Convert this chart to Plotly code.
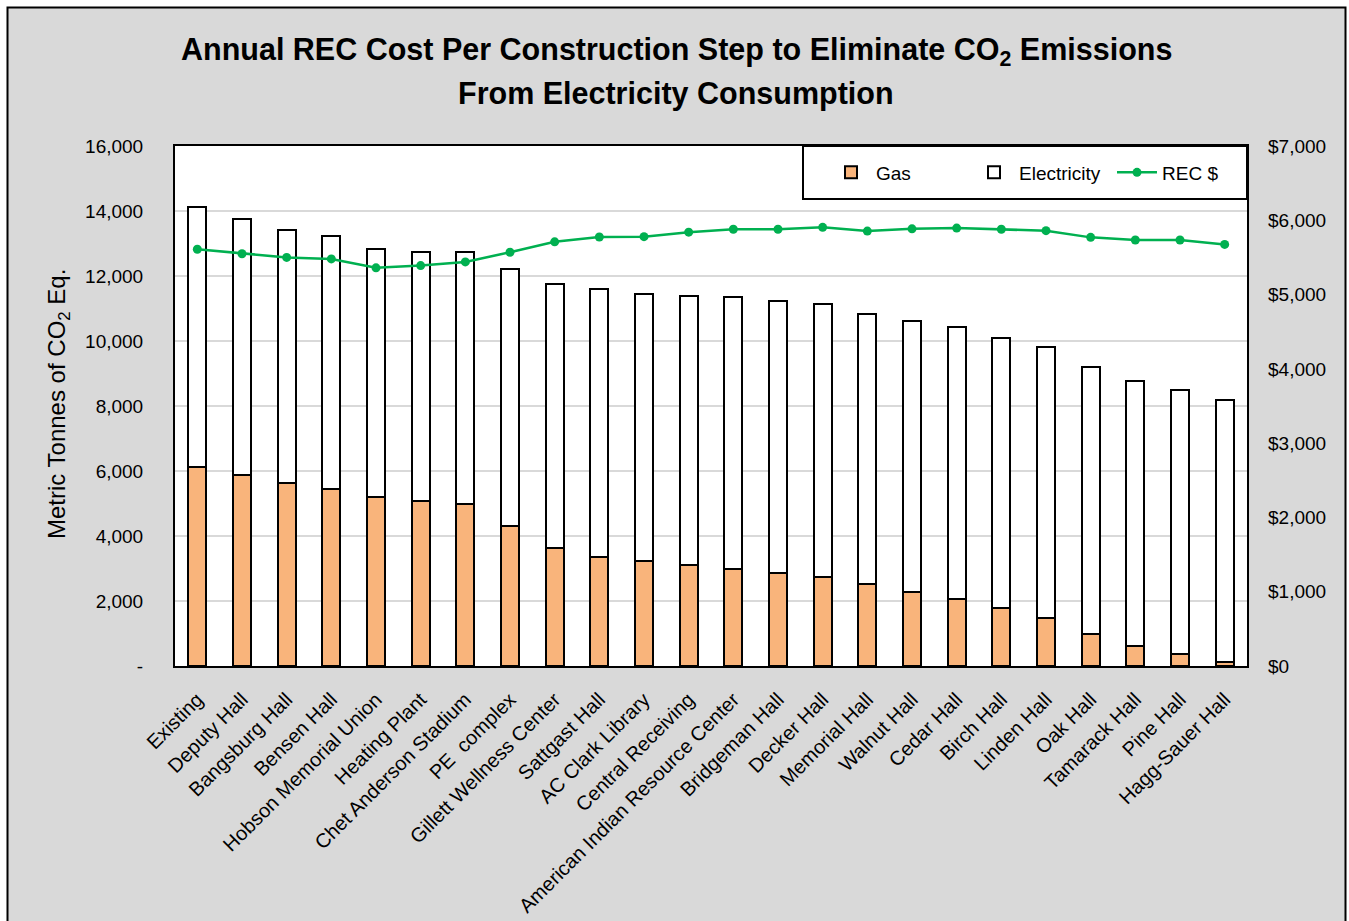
import plotly.graph_objects as go

# Construction steps (x categories)
steps = [
    "Existing", "Deputy Hall", "Bangsburg Hall", "Bensen Hall",
    "Hobson Memorial Union", "Heating Plant", "Chet Anderson Stadium",
    "PE\u00a0 complex", "Gillett Wellness Center", "Sattgast Hall",
    "AC Clark Library", "Central Receiving", "American Indian Resource Center",
    "Bridgeman Hall", "Decker Hall", "Memorial Hall", "Walnut Hall",
    "Cedar Hall", "Birch Hall", "Linden Hall", "Oak Hall", "Tamarack Hall",
    "Pine Hall", "Hagg-Sauer Hall",
]

# Metric tonnes CO2 eq. from gas
gas_t = [6130, 5870, 5630, 5460, 5210, 5090, 4990, 4300, 3640, 3360, 3220, 3110,
         2990, 2860, 2740, 2520, 2280, 2060, 1770, 1480, 990, 610, 360, 120]

# Metric tonnes CO2 eq. from electricity
elec_t = [7980, 7880, 7800, 7770, 7620, 7660, 7750, 7920, 8100, 8230, 8220, 8290,
          8350, 8360, 8390, 8320, 8350, 8360, 8320, 8340, 8210, 8160, 8130, 8060]

# Annual REC cost ($)
rec_cost = [5610, 5550, 5500, 5480, 5360, 5390, 5440, 5570, 5710, 5775, 5780, 5840,
            5880, 5880, 5905, 5855, 5885, 5895, 5880, 5860, 5770, 5735, 5735, 5675]

# Axis tick labels
left_vals = [0, 2000, 4000, 6000, 8000, 10000, 12000, 14000, 16000]
left_text = ["-", "2,000", "4,000", "6,000", "8,000", "10,000", "12,000", "14,000", "16,000"]
right_vals = [0, 1000, 2000, 3000, 4000, 5000, 6000, 7000]
right_text = ["$0", "$1,000", "$2,000", "$3,000", "$4,000", "$5,000", "$6,000", "$7,000"]

FONT = "Liberation Sans, Arial, sans-serif"
BG = "#d9d9d9"
ORANGE = "#f9b47b"
GREEN = "#00b050"

W, H = 1349, 921
L, R, T, B = 175, 102, 146, 255
PW, PH = W - L - R, H - T - B


def px_x(p):
    return (p - L) / PW


def px_y(p):
    return (H - B - p) / PH


fig = go.Figure()
fig.add_trace(go.Bar(
    x=steps, y=gas_t, name="Gas", width=0.4,
    marker=dict(color=ORANGE, line=dict(color="black", width=2)),
))
fig.add_trace(go.Bar(
    x=steps, y=elec_t, name="Electricity", width=0.4,
    marker=dict(color="white", line=dict(color="black", width=2)),
))
fig.add_trace(go.Scatter(
    x=steps, y=rec_cost, name="REC $", yaxis="y2", mode="lines+markers",
    line=dict(color=GREEN, width=2.5), marker=dict(color=GREEN, size=9),
))

shapes = [
    # outer frame: white margins and a thin black border
    dict(type="rect", xref="paper", yref="paper", x0=-0.3, x1=1.3,
         y0=px_y(7), y1=1.4, fillcolor="white", line_width=0, layer="below"),
    dict(type="rect", xref="paper", yref="paper", x0=-0.3, x1=px_x(7),
         y0=-0.7, y1=1.4, fillcolor="white", line_width=0, layer="below"),
    dict(type="rect", xref="paper", yref="paper", x0=px_x(1346), x1=1.3,
         y0=-0.7, y1=1.4, fillcolor="white", line_width=0, layer="below"),
    dict(type="rect", xref="paper", yref="paper", x0=px_x(7.5), x1=px_x(1345.5),
         y0=-0.7, y1=px_y(7.5), line=dict(color="black", width=2), layer="above"),
    # legend box
    dict(type="rect", xref="paper", yref="paper", x0=px_x(803), x1=1,
         y0=px_y(199), y1=1, fillcolor="white",
         line=dict(color="black", width=2), layer="above"),
]

title_font = dict(family=FONT, size=30.5, color="black")
annotations = [
    dict(text="<b>Annual REC Cost Per Construction Step to Eliminate CO<sub>2</sub> Emissions</b>",
         xref="paper", yref="paper", x=px_x(676), y=px_y(52),
         xanchor="center", yanchor="middle", showarrow=False, font=title_font),
    dict(text="<b>From Electricity Consumption</b>",
         xref="paper", yref="paper", x=px_x(676), y=px_y(94),
         xanchor="center", yanchor="middle", showarrow=False, font=title_font),
    dict(text="Metric Tonnes of CO<sub>2</sub> Eq.", textangle=-90,
         xref="paper", yref="paper", x=px_x(58), y=px_y(404),
         xanchor="center", yanchor="middle", showarrow=False,
         font=dict(family=FONT, size=24, color="black")),
]

fig.update_layout(
    width=W, height=H,
    margin=dict(l=L, r=R, t=T, b=B, pad=0, autoexpand=False),
    paper_bgcolor=BG, plot_bgcolor="white",
    barmode="stack", bargap=0.6,
    font=dict(family=FONT, size=19, color="black"),
    xaxis=dict(
        range=[-0.5, len(steps) - 0.5],
        tickangle=-45, tickfont=dict(size=20), showgrid=False,
        showline=True, linecolor="black", linewidth=2, mirror=True,
        ticks="", ticklabelstandoff=12, automargin=False,
    ),
    yaxis=dict(
        range=[0, 16000], tickvals=left_vals, ticktext=left_text,
        showgrid=True, gridcolor="#d9d9d9", gridwidth=2,
        showline=True, linecolor="black", linewidth=2, mirror=True,
        ticks="", ticklabelstandoff=26, zeroline=False, automargin=False,
    ),
    yaxis2=dict(
        range=[0, 7000], tickvals=right_vals, ticktext=right_text,
        overlaying="y", side="right", showgrid=False, zeroline=False,
        showline=False, ticks="", ticklabelstandoff=20, automargin=False,
    ),
    legend=dict(
        orientation="h", x=px_x(826), xanchor="left",
        y=px_y(172.5), yanchor="middle",
        bgcolor="rgba(0,0,0,0)", borderwidth=0,
        traceorder="normal", font=dict(size=19),
        entrywidth=88, entrywidthmode="pixels", itemwidth=40,
    ),
    annotations=annotations,
    shapes=shapes,
    showlegend=True,
)

fig.write_html("out.html")
